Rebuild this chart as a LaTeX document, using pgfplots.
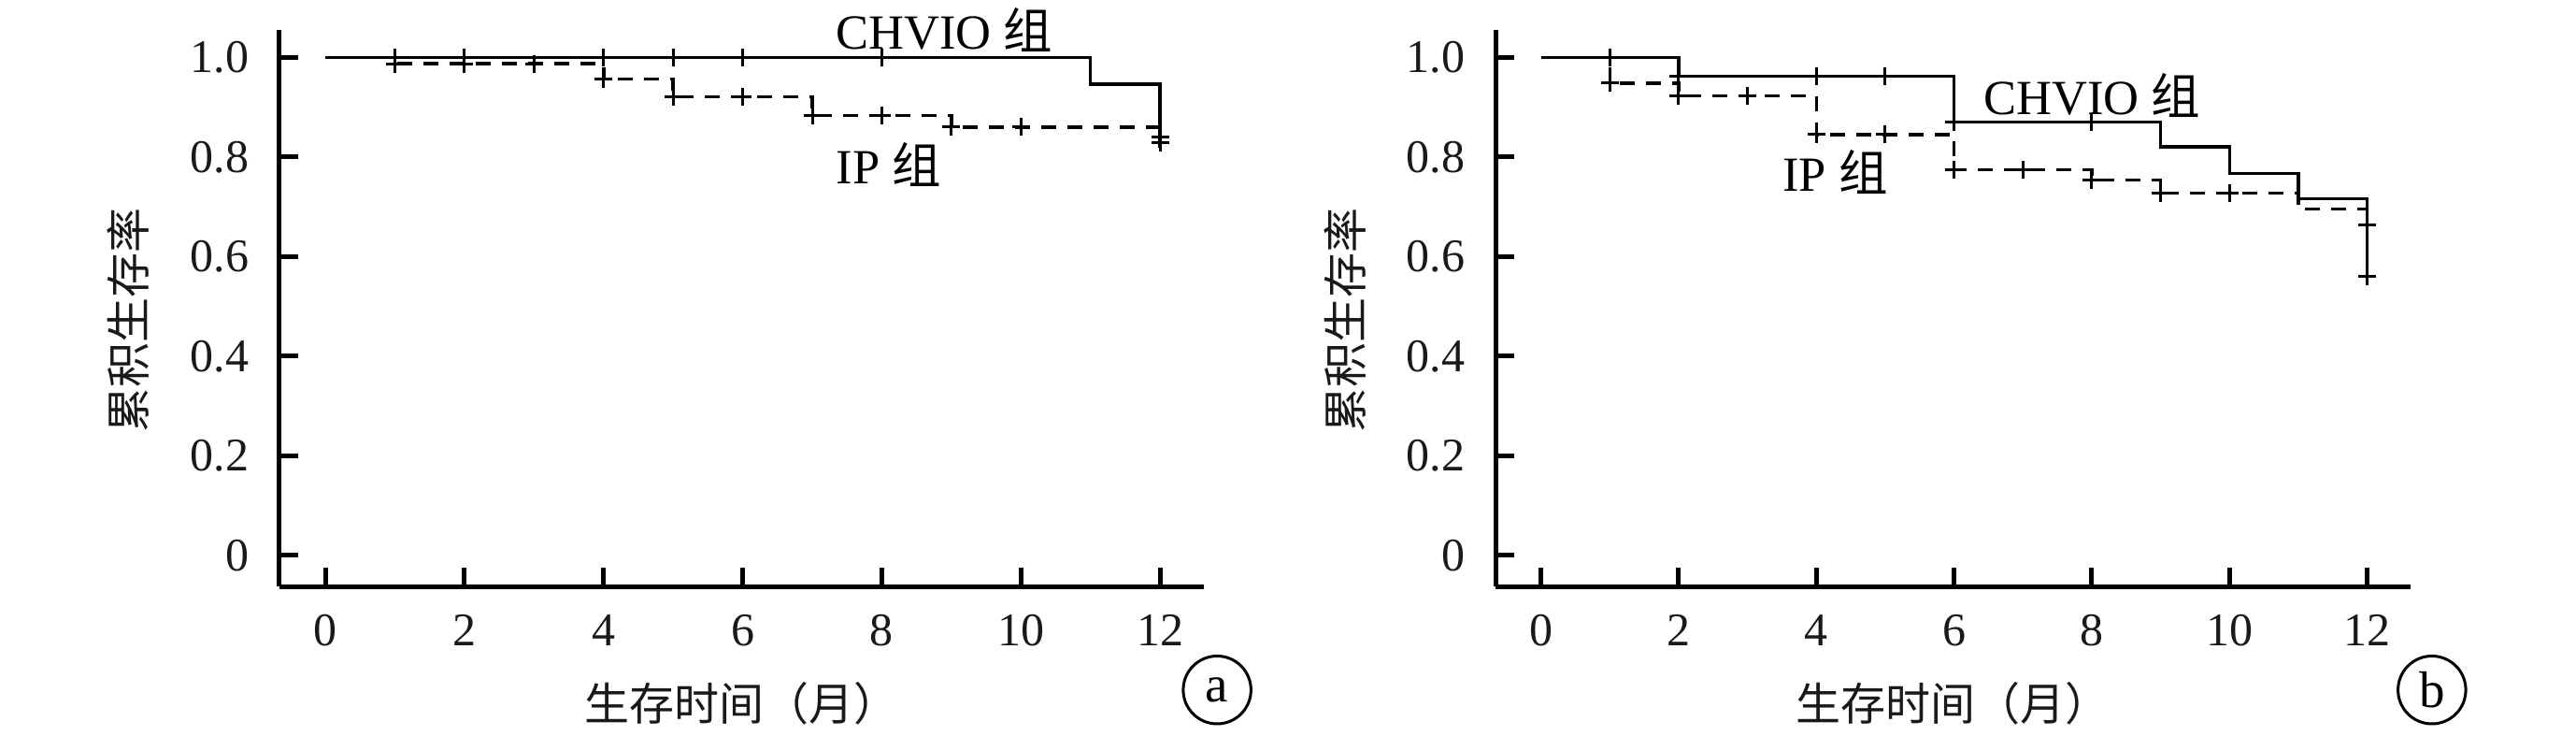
\documentclass[border=0pt]{standalone}
\usepackage{fontspec}
\setmainfont{Liberation Serif}
\newfontfamily\cjk{Noto Sans CJK SC}
\usepackage{pgfplots}
\pgfplotsset{compat=1.18}
\pgfplotsset{
  km/.style={
    scale only axis, width=197.8pt, height=119.1pt,
    xmin=-0.66, xmax=12.63, ymin=-0.063, ymax=1.055,
    axis x line=bottom, axis y line=left,
    axis line style={-, line width=1pt, black},
    tick style={line width=1pt, black},
    major tick length=4pt, tick align=inside,
    xtick={0,2,4,6,8,10,12},
    ytick={0,0.2,0.4,0.6,0.8,1.0},
    yticklabels={0,0.2,0.4,0.6,0.8,1.0},
    tick label style={font=\fontsize{10}{11}\selectfont, text=black!90},
    xticklabel style={yshift=-2.5pt},
    yticklabel style={xshift=-3pt},
    /pgf/number format/assume math mode=true,
    label style={font=\fontsize{9.6}{10}\selectfont\cjk, text=black!90},
    ylabel style={at={(axis description cs:-0.164,0.478)}, anchor=center},
    xlabel style={at={(axis description cs:0.5,-0.209)}, anchor=center},
    clip=false,
  },
  surv/.style={black, line width=0.7pt, mark=none},
  survd/.style={black, line width=0.7pt, mark=none, dash pattern=on 3.2pt off 2.4pt},
  cens/.style={only marks, mark=+, mark size=1.9pt, black, mark options={solid, line width=0.6pt}},
}
\begin{document}
\begin{tikzpicture}
\path[use as bounding box] (0,0) rectangle (551.2pt,157.4pt);
% Panel a
\begin{axis}[km, at={(59.8pt,31.9pt)}, anchor=south west,
  xlabel={生存时间（月）}, ylabel={累积生存率}]
\addplot[surv] coordinates {(0,1) (11,1) (11,0.946) (12,0.946) (12,0.818)};
\addplot[survd] coordinates {(0,1) (1,1) (1,0.987) (4,0.987) (4,0.956) (5,0.956) (5,0.921) (7,0.921) (7,0.883) (9,0.883) (9,0.860) (12,0.860)};
\addplot[cens] coordinates {(1,1) (2,1) (4,1) (5,1) (6,1) (8,1) (12,0.829)};
\addplot[cens] coordinates {(1,0.987) (2,0.987) (3,0.987) (4,0.956) (5,0.921) (6,0.921) (7,0.883) (8,0.883) (9,0.860) (10,0.860) (12,0.840)};
\node[anchor=west, inner sep=0pt, font=\fontsize{10.5}{11}\selectfont] at (axis cs:7.33,1.055) {CHVIO {\cjk 组}};
\node[anchor=west, inner sep=0pt, font=\fontsize{10.5}{11}\selectfont] at (axis cs:7.33,0.785) {IP {\cjk 组}};
\node[circle, draw, line width=0.6pt, minimum size=14.5pt, inner sep=0pt, font=\fontsize{11}{11}\selectfont] at (axis cs:12.82,-0.27) {a};
\end{axis}
% Panel b
\begin{axis}[km, width=195.8pt, at={(320pt,31.9pt)}, anchor=south west,
  xlabel={生存时间（月）}, ylabel={累积生存率}]
\addplot[surv] coordinates {(0,1) (2,1) (2,0.962) (6,0.962) (6,0.870) (9,0.870) (9,0.820) (10,0.820) (10,0.767) (11,0.767) (11,0.716) (12,0.716) (12,0.549)};
\addplot[survd] coordinates {(0,1) (1,1) (1,0.948) (2,0.948) (2,0.923) (4,0.923) (4,0.845) (6,0.845) (6,0.774) (8,0.774) (8,0.754) (9,0.754) (9,0.727) (11,0.727) (11,0.695) (12,0.695)};
\addplot[cens] coordinates {(1,1) (2,0.962) (4,0.962) (5,0.962) (6,0.870) (8,0.870) (12,0.561)};
\addplot[cens] coordinates {(1,0.948) (2,0.923) (3,0.923) (4,0.845) (5,0.845) (6,0.774) (7,0.774) (8,0.754) (9,0.727) (10,0.727) (12,0.663)};
\node[anchor=west, inner sep=0pt, font=\fontsize{10.5}{11}\selectfont] at (axis cs:6.42,0.924) {CHVIO {\cjk 组}};
\node[anchor=west, inner sep=0pt, font=\fontsize{10.5}{11}\selectfont] at (axis cs:3.50,0.769) {IP {\cjk 组}};
\node[circle, draw, line width=0.6pt, minimum size=14.5pt, inner sep=0pt, font=\fontsize{11}{11}\selectfont] at (axis cs:12.94,-0.27) {b};
\end{axis}
\end{tikzpicture}
\end{document}
